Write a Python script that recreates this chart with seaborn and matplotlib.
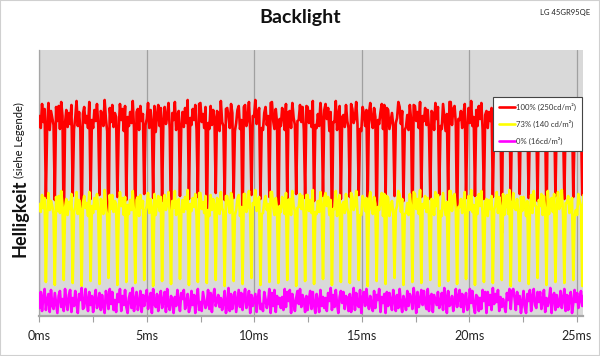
import numpy as np
import pandas as pd
import seaborn as sns
import matplotlib
matplotlib.use("Agg")
import matplotlib.pyplot as plt
from matplotlib.patches import Rectangle

# ---------------- data (arbitrary brightness units) ----------------
SAMPLE_MS = 0.0594          # sampling interval of the measurement (ms)

series_labels = ["100% (250cd/m²)", "73% (140 cd/m²)", "0% (16cd/m²)"]
series_colors = ["#ff0000", "#ffff00", "#ff00ff"]

red = [
    200,188,212,194,207,118,190, 213,186,205,198,191,116,209, 195,210,187,214,200,82,193,
    206,189,203,192,211,120,187, 198,215,190,204,186,85,202, 209,193,200,188,214,117,196,
    188,206,195,212,191,121,205, 202,190,216,197,185,79,208, 194,211,189,203,199,119,186,
    212,196,207,185,210,116,199, 190,204,193,215,188,88,204, 207,186,210,195,202,122,191,
    197,213,188,206,194,118,210, 184,201,211,190,208,115,195, 209,192,199,213,187,84,203,
    196,214,186,201,205,120,189, 204,189,208,193,216,117,198, 191,207,196,211,186,119,212,
    213,194,202,188,209,81,193, 187,210,191,206,198,123,205, 202,185,215,194,190,116,207,
    208,199,188,212,203,118,185, 193,206,210,187,196,86,209, 211,190,197,214,185,121,200,
    199,216,192,203,208,117,188, 186,203,209,191,200,119,213, 214,195,187,207,193,80,197,
    190,208,201,186,212,116,204, 205,188,213,198,191,122,195, 196,211,194,209,186,118,210,
    209,193,205,189,215,115,191, 188,202,190,213,197,120,206, 212,197,208,185,204,83,194,
    194,215,186,201,210,117,199, 201,189,211,195,188,119,212, 207,193,198,214,192,121,187,
    185,209,203,190,206,116,203, 213,196,188,208,199,87,196, 192,204,212,187,211,118,208,
    206,187,195,203,190,120,193, 198,214,209,192,205,115,186, 189,201,186,211,196,82,211,
    210,195,204,188,214,119,200, 195,208,191,206,187,117,205, 203,186,213,197,209,121,190,
    187,212,199,185,202,116,214, 214,191,207,210,193,85,197, 196,205,188,202,212,118,189,
    208,193,215,190,199,120,206, 190,210,197,213,186,117,201, 205,188,204,195,208,119,193,
    199,213,190,207,194,83,210, 186,202,211,188,215,116,198, 211,195,193,204,190,122,207,
    193,207,200,186,203,118,191, 209,190,214,198,196,115,204, 197,211,187,209,192,86,213,
    188,203,206,191,210,120,195, 212,194,198,215,189,117,200, 201,208,190,197,205,119,188,
    194,187,210,203,196,121,209,
]

yellow = [
    112,104,121,108,118,34,101, 123,106,115,110,102,31,119, 105,120,103,125,111,36,108,
    117,101,114,107,122,33,104, 109,124,102,116,106,30,113, 120,108,113,100,124,35,110,
    103,118,107,122,105,32,117, 114,102,126,109,100,38,121, 107,121,104,115,112,31,103,
    124,110,118,101,119,34,111, 102,116,106,125,103,33,116, 119,100,121,108,115,36,105,
    110,123,103,117,107,30,122, 101,113,120,105,119,35,109, 121,106,112,124,102,32,115,
    108,125,101,114,117,37,103, 116,104,119,107,126,31,112, 105,118,109,122,100,34,123,
    123,107,114,103,120,33,106, 100,121,106,117,111,36,118, 115,102,124,108,104,30,120,
    120,111,103,123,116,35,101, 106,117,121,100,109,32,122, 122,104,110,125,101,38,113,
    111,126,105,115,119,31,102, 103,114,120,106,112,34,124, 124,109,101,118,107,33,110,
    104,119,113,102,123,36,116, 117,101,125,110,105,30,108, 109,122,107,120,100,35,121,
    121,105,116,103,126,32,104, 102,115,104,124,110,37,118, 123,110,119,101,116,31,107,
    107,125,100,113,121,34,111, 114,103,122,108,102,33,123, 119,106,111,125,104,36,101,
    101,120,116,105,118,30,115, 124,108,102,119,112,35,109, 106,116,123,100,122,32,120,
    118,100,109,115,103,38,106, 110,125,121,104,117,31,102, 103,113,101,122,108,34,124,
    122,107,117,102,126,33,112, 108,120,104,118,100,36,117, 115,101,124,110,121,30,105,
    100,123,112,101,114,35,125, 125,105,119,122,106,32,109, 109,117,103,113,124,37,101,
    120,106,126,104,111,31,118, 102,122,110,125,100,34,114, 117,100,116,107,120,33,106,
    111,124,103,119,108,36,122, 101,114,121,102,126,30,110, 123,108,106,117,103,35,119,
    105,119,113,100,115,32,104, 121,103,125,111,109,38,116, 110,122,101,120,105,31,125,
    102,116,118,104,122,34,108, 124,107,111,126,101,33,113, 113,120,103,109,118,36,100,
    106,101,122,115,110,30,121,
]

magenta = [
    8,24,5,19,27,6,15, 22,4,26,11,7,23,13, 3,20,25,9,17,5,27, 14,6,21,26,4,18,10,
    25,12,3,22,16,28,7, 9,27,15,5,24,11,20, 4,17,26,8,13,23,6, 21,10,3,25,19,7,27,
    12,24,6,16,4,22,14, 27,5,20,11,26,9,3, 18,23,8,28,5,15,24, 6,13,25,4,21,10,19,
    26,7,16,23,3,27,12, 9,22,5,18,25,8,14, 24,4,27,11,6,20,16, 3,19,10,26,15,5,23,
    17,26,7,13,22,4,9, 25,11,21,3,18,27,6, 14,5,24,16,8,12,26, 7,23,4,20,27,10,15,
    21,9,18,6,14,25,3, 11,28,5,22,7,17,24, 4,15,26,9,23,6,19, 27,8,13,25,3,21,10,
    16,22,4,18,26,7,12, 5,24,17,8,14,27,3, 23,10,26,4,20,12,18, 8,19,6,27,9,24,15,
    26,3,22,13,5,18,25, 12,27,9,21,16,4,20, 6,17,25,7,24,11,3, 22,14,4,26,10,19,8,
    18,5,23,15,28,6,21, 9,26,12,3,19,25,13, 24,7,20,17,5,22,4, 15,28,6,23,11,9,26,
    3,18,24,10,27,14,7, 20,11,5,25,8,21,16, 27,4,19,13,22,3,24, 10,23,15,6,26,17,5,
    21,8,27,12,4,20,14, 6,25,10,22,18,7,28, 17,3,24,9,15,26,11, 25,13,7,27,5,19,22,
    4,21,16,11,24,8,13, 23,6,28,18,3,25,10, 12,20,5,14,27,9,19, 26,9,22,4,17,23,6,
    8,27,13,25,10,3,21, 19,5,18,7,26,15,24, 3,24,11,21,6,28,12, 22,14,26,5,19,9,17,
    10,4,23,16,27,7,25, 27,18,6,24,12,20,3, 13,25,9,3,22,15,26, 5,19,27,11,8,24,14,
    24,7,15,26,4,18,10, 16,28,3,20,23,6,21, 9,12,25,8,17,27,5, 21,6,19,24,3,13,26,
    14,23,8,17,25,10,20,
]

x_ticks = [0, 5, 10, 15, 20, 25]
x_tick_labels = ["0ms", "5ms", "10ms", "15ms", "20ms", "25ms"]

# ---------------- figure ----------------
sns.set_theme(style="white")
plt.rcParams["font.family"] = ["Lato", "DejaVu Sans"]

fig = plt.figure(figsize=(6.0, 3.56), dpi=100)
ax = fig.add_axes([39.5 / 600, 40 / 356, (583 - 39.5) / 600, 266 / 356])
ax.set_facecolor("#d9d9d9")

t = np.arange(len(red)) * SAMPLE_MS
df = pd.DataFrame({"t": t, "red": red, "yellow": yellow, "magenta": magenta})

for i, (col, lab, c) in enumerate(zip(["red", "yellow", "magenta"], series_labels, series_colors)):
    sns.lineplot(data=df, x="t", y=col, color=c, lw=1.9, ax=ax, label=lab,
                 sort=False, estimator=None, zorder=3 + i)

ax.set_xlim(0, 25.28)
ax.set_ylim(0, 266)
ax.set_yticks([])
ax.set_xticks(x_ticks)
ax.set_xticklabels(x_tick_labels, fontsize=9, color="#222222")
ax.set_xticks([2.5, 7.5, 12.5, 17.5, 22.5], minor=True)
ax.tick_params(axis="x", which="both", direction="out", length=4, width=0.8,
               color="#a0a0a0", bottom=True, pad=6)
ax.grid(False)
for x in x_ticks:
    ax.axvline(x, color="#a0a0a0", lw=0.9, zorder=1)
ax.set_xlabel("")
ax.set_ylabel("")
for s in ["top", "right"]:
    ax.spines[s].set_visible(False)
ax.spines["left"].set_color("#a6a6a6")
ax.spines["left"].set_linewidth(0.9)
ax.spines["bottom"].set_color("#a6a6a6")
ax.spines["bottom"].set_linewidth(1.6)

leg = ax.legend(loc="upper left", bbox_to_anchor=((493 - 39.5) / 543.5, (316 - 97) / 266),
                fontsize=5.6, frameon=True, fancybox=False, labelspacing=1.15,
                handlelength=2.1, handletextpad=0.1, borderpad=0.75, borderaxespad=0)
leg.get_frame().set_edgecolor("#444444")
leg.get_frame().set_linewidth(0.8)
leg.get_frame().set_facecolor("white")
leg.get_frame().set_alpha(1)
leg.set_zorder(10)
for txt in leg.get_texts():
    txt.set_color("#333333")

fig.text(0.5, 1 - 17 / 356, "Backlight", ha="center", va="center",
         fontsize=14, fontweight="bold", color="#111111")
fig.text(590 / 600, 1 - 12 / 356, "LG 45GR95QE", ha="right", va="center",
         fontsize=5.5, color="#222222")
fig.text(20 / 600, 1 - 218 / 356, "Helligkeit", rotation=90, ha="center", va="center",
         fontsize=13, fontweight="bold", color="#111111")
fig.text(19 / 600, 1 - 140 / 356, "(siehe Legende)", rotation=90, ha="center", va="center",
         fontsize=8, color="#111111")

fig.patches.append(Rectangle((0, 0), 1, 1, transform=fig.transFigure, fill=False,
                             edgecolor="#d0d0d0", lw=1.5))

fig.savefig("out.png", dpi=100)
